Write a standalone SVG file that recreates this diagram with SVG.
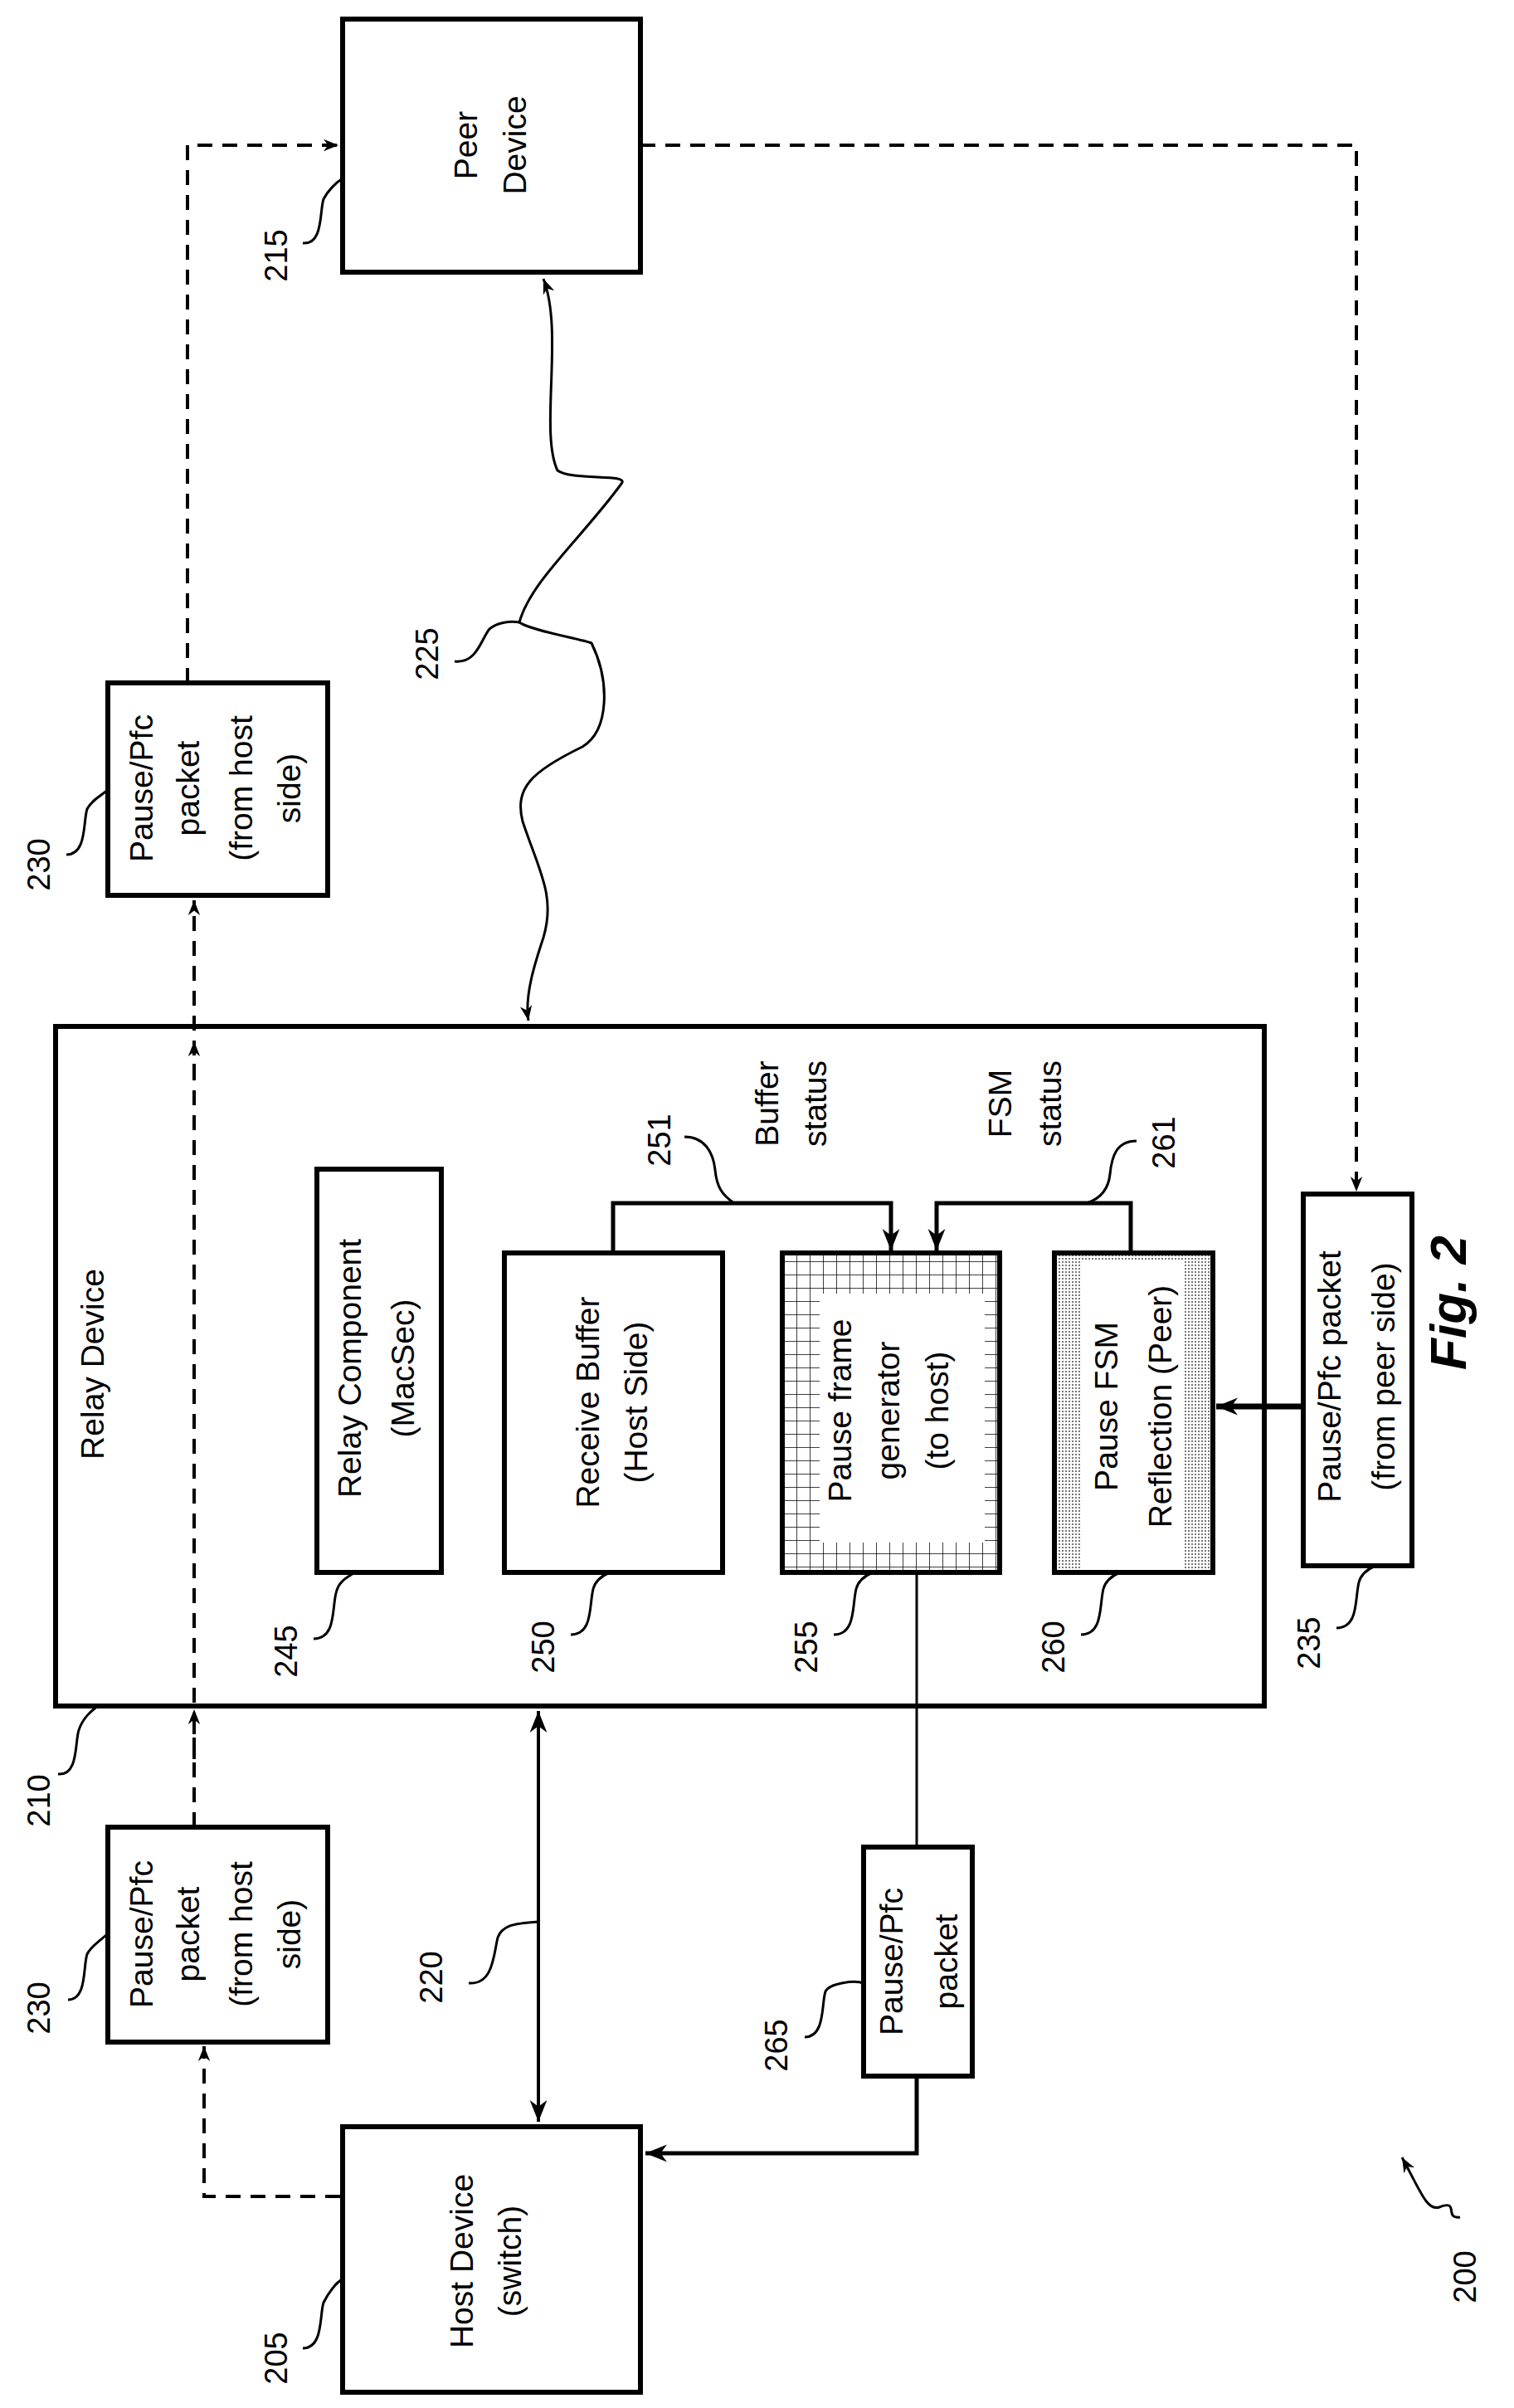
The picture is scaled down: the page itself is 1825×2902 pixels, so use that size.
<svg xmlns="http://www.w3.org/2000/svg" width="1825" height="2902" viewBox="0 0 1825 2902">
<style>
.box{fill:#fff;stroke:#000;stroke-width:6}
.ln{fill:none;stroke:#000;stroke-width:3}
.bold{fill:none;stroke:#000;stroke-width:5}
.dash{fill:none;stroke:#000;stroke-width:4;stroke-dasharray:18 12}
.t{font-family:"Liberation Sans",Arial,sans-serif;font-size:39px;fill:#000;text-anchor:middle;dominant-baseline:central}
.n{font-family:"Liberation Sans",Arial,sans-serif;font-size:38px;fill:#000;text-anchor:middle;dominant-baseline:central}
</style>
<defs>
<marker id="as" viewBox="0 0 10 10" refX="10" refY="5" markerWidth="18" markerHeight="18" markerUnits="userSpaceOnUse" orient="auto"><path d="M0,1 L10,5 L0,9 L3,5 z" fill="#000"/></marker>
<marker id="ass" viewBox="0 0 10 10" refX="10" refY="5" markerWidth="18" markerHeight="18" markerUnits="userSpaceOnUse" orient="auto-start-reverse"><path d="M0,1 L10,5 L0,9 L3,5 z" fill="#000"/></marker>
<marker id="al" viewBox="0 0 10 10" refX="10" refY="5" markerWidth="26" markerHeight="26" markerUnits="userSpaceOnUse" orient="auto-start-reverse"><path d="M0,1 L10,5 L0,9 L3,5 z" fill="#000"/></marker>
<pattern id="grid" width="16" height="16" patternUnits="userSpaceOnUse"><rect width="16" height="16" fill="#fff"/><path d="M0,0 H16 M0,0 V16" stroke="#000" stroke-width="1.5"/></pattern>
<pattern id="dots" width="4" height="4" patternUnits="userSpaceOnUse"><rect width="4" height="4" fill="#fff"/><rect width="2" height="2" fill="#777"/></pattern>
</defs>

<g id="n210"><rect class="box" x="67" y="1237" width="1457" height="819"/>
<text class="t" transform="translate(111,1644) rotate(-90)">Relay Device</text></g>

<g id="connectors">
<path class="dash" d="M226,823 V175 H408" marker-end="url(#as)"/>
<path class="dash" d="M772,175 H1635 V1436" marker-end="url(#as)"/>
<path class="dash" d="M234,2202 V1085" marker-end="url(#as)"/>
<path class="dash" d="M234,1300 V1255" marker-end="url(#as)"/>
<path class="dash" d="M234,2120 V2060" marker-end="url(#as)"/>
<path class="dash" d="M410,2647 H246 V2466" marker-end="url(#as)"/>
<path class="ln" d="M655,336 C680,400 650,520 672,567 C690,580 760,570 749,583 C700,650 640,700 626,750 C640,760 700,770 713,775 C735,820 735,880 702,900 C640,930 620,950 630,990 C650,1050 670,1080 655,1130 C645,1160 632,1200 637,1230" marker-start="url(#ass)" marker-end="url(#as)"/>
<path class="ln" d="M649,2062 V2557" style="stroke-width:4" marker-start="url(#al)" marker-end="url(#al)"/>
<path class="ln" d="M1105,1895 V2226"/>
<path class="bold" d="M1105,2502 V2595 H778" marker-end="url(#al)"/>
<path class="bold" d="M739,1510 V1450 H1074 V1507" marker-end="url(#al)"/>
<path class="bold" d="M1363,1510 V1450 H1129 V1507" marker-end="url(#al)"/>
<path class="bold" d="M1571,1695 H1466" style="stroke-width:7" marker-end="url(#al)"/>
</g>

<g id="n215"><rect class="box" x="413" y="23" width="359" height="305"/>
<text class="t" transform="translate(561,175) rotate(-90)">Peer</text>
<text class="t" transform="translate(620,175) rotate(-90)">Device</text></g>

<g id="n205"><rect class="box" x="413" y="2563" width="359" height="320"/>
<text class="t" transform="translate(556,2725) rotate(-90)">Host Device</text>
<text class="t" transform="translate(614,2725) rotate(-90)">(switch)</text></g>

<g id="n230a"><rect class="box" x="130" y="823" width="265" height="256"/>
<text class="t" transform="translate(170,950) rotate(-90)">Pause/Pfc</text>
<text class="t" transform="translate(226,950) rotate(-90)">packet</text>
<text class="t" transform="translate(290,950) rotate(-90)">(from host</text>
<text class="t" transform="translate(348,950) rotate(-90)">side)</text></g>

<g id="n230b"><rect class="box" x="130" y="2202" width="265" height="259"/>
<text class="t" transform="translate(170,2331) rotate(-90)">Pause/Pfc</text>
<text class="t" transform="translate(226,2331) rotate(-90)">packet</text>
<text class="t" transform="translate(290,2331) rotate(-90)">(from host</text>
<text class="t" transform="translate(348,2331) rotate(-90)">side)</text></g>

<g id="n265"><rect class="box" x="1041" y="2226" width="131" height="276"/>
<text class="t" transform="translate(1074,2364) rotate(-90)">Pause/Pfc</text>
<text class="t" transform="translate(1140,2364) rotate(-90)">packet</text></g>

<g id="n245"><rect class="box" x="382" y="1409" width="150" height="486"/>
<text class="t" transform="translate(421,1649) rotate(-90)">Relay Component</text>
<text class="t" transform="translate(485,1649) rotate(-90)">(MacSec)</text></g>

<g id="n250"><rect class="box" x="608" y="1510" width="263" height="385"/>
<text class="t" transform="translate(708,1690) rotate(-90)">Receive Buffer</text>
<text class="t" transform="translate(766,1690) rotate(-90)">(Host Side)</text></g>

<g id="n255"><rect x="943" y="1510" width="262" height="385" fill="url(#grid)" stroke="none"/>
<rect x="988" y="1559" width="199" height="300" fill="#fff"/>
<rect class="box" x="943" y="1510" width="262" height="385" style="fill:none"/>
<text class="t" transform="translate(1012,1700) rotate(-90)">Pause frame</text>
<text class="t" transform="translate(1070,1700) rotate(-90)">generator</text>
<text class="t" transform="translate(1129,1700) rotate(-90)">(to host)</text></g>

<g id="n260"><rect x="1271" y="1510" width="191" height="385" fill="url(#dots)"/>
<rect x="1304" y="1520" width="123" height="372" fill="#fff"/>
<rect class="box" x="1271" y="1510" width="191" height="385" style="fill:none"/>
<text class="t" transform="translate(1333,1695) rotate(-90)">Pause FSM</text>
<text class="t" transform="translate(1398,1695) rotate(-90)">Reflection (Peer)</text></g>

<g id="n235"><rect class="box" x="1571" y="1439" width="131" height="448"/>
<text class="t" transform="translate(1602,1659) rotate(-90)">Pause/Pfc packet</text>
<text class="t" transform="translate(1667,1659) rotate(-90)">(from peer side)</text></g>

<g id="labels">
<text class="t" transform="translate(924,1330) rotate(-90)">Buffer</text>
<text class="t" transform="translate(982,1330) rotate(-90)">status</text>
<text class="t" transform="translate(1205,1330) rotate(-90)">FSM</text>
<text class="t" transform="translate(1265,1330) rotate(-90)">status</text>
<text class="n" transform="translate(333,308) rotate(-90)">215</text>
<path class="ln" d="M365,293 C390,295 385,255 390,240 C395,230 405,220 413,215"/>
<text class="n" transform="translate(47,1042) rotate(-90)">230</text>
<path class="ln" d="M80,1030 C105,1030 100,990 105,975 C110,965 120,960 130,952"/>
<text class="n" transform="translate(515,788) rotate(-90)">225</text>
<path class="ln" d="M548,797 C575,800 580,770 590,758 C600,750 615,748 626,750"/>
<text class="n" transform="translate(47,2170) rotate(-90)">210</text>
<path class="ln" d="M70,2138 C95,2140 90,2100 95,2085 C100,2070 110,2062 118,2056"/>
<text class="n" transform="translate(47,2420) rotate(-90)">230</text>
<path class="ln" d="M82,2410 C105,2410 100,2370 105,2355 C110,2345 120,2340 130,2330"/>
<text class="n" transform="translate(520,2383) rotate(-90)">220</text>
<path class="ln" d="M565,2390 C595,2392 595,2355 600,2335 C605,2322 615,2318 649,2316"/>
<text class="n" transform="translate(936,2465) rotate(-90)">265</text>
<path class="ln" d="M970,2455 C995,2455 990,2415 995,2400 C1000,2390 1030,2386 1041,2390"/>
<text class="n" transform="translate(333,2842) rotate(-90)">205</text>
<path class="ln" d="M365,2830 C390,2830 385,2790 390,2775 C395,2765 405,2750 413,2747"/>
<text class="n" transform="translate(1766,2744) rotate(-90)">200</text>
<path class="ln" d="M1760,2672 C1740,2675 1760,2650 1735,2660 C1720,2665 1712,2640 1690,2600" marker-end="url(#as)"/>
<text class="n" transform="translate(345,1990) rotate(-90)">245</text>
<path class="ln" d="M378,1975 C405,1975 400,1940 405,1920 C408,1905 420,1900 428,1895"/>
<text class="n" transform="translate(655,1985) rotate(-90)">250</text>
<path class="ln" d="M688,1970 C715,1970 710,1935 715,1915 C718,1903 728,1898 735,1895"/>
<text class="n" transform="translate(972,1985) rotate(-90)">255</text>
<path class="ln" d="M1005,1970 C1032,1970 1027,1935 1032,1915 C1035,1903 1045,1898 1052,1895"/>
<text class="n" transform="translate(1270,1985) rotate(-90)">260</text>
<path class="ln" d="M1303,1970 C1330,1970 1325,1935 1330,1915 C1333,1903 1343,1898 1350,1895"/>
<text class="n" transform="translate(1578,1980) rotate(-90)">235</text>
<path class="ln" d="M1611,1962 C1638,1962 1633,1927 1638,1907 C1641,1895 1651,1890 1658,1887"/>
<text class="n" transform="translate(795,1374) rotate(-90)">251</text>
<path class="ln" d="M825,1370 C850,1370 860,1390 862,1410 C864,1430 870,1440 885,1450"/>
<text class="n" transform="translate(1403,1377) rotate(-90)">261</text>
<path class="ln" d="M1370,1375 C1345,1375 1340,1395 1338,1415 C1336,1435 1325,1445 1310,1450"/>
<text transform="translate(1745,1570) rotate(-90)" style="font-family:'Liberation Sans',Arial,sans-serif;font-size:62px;font-weight:bold;font-style:italic;text-anchor:middle;dominant-baseline:central">Fig. 2</text>
</g>
</svg>
